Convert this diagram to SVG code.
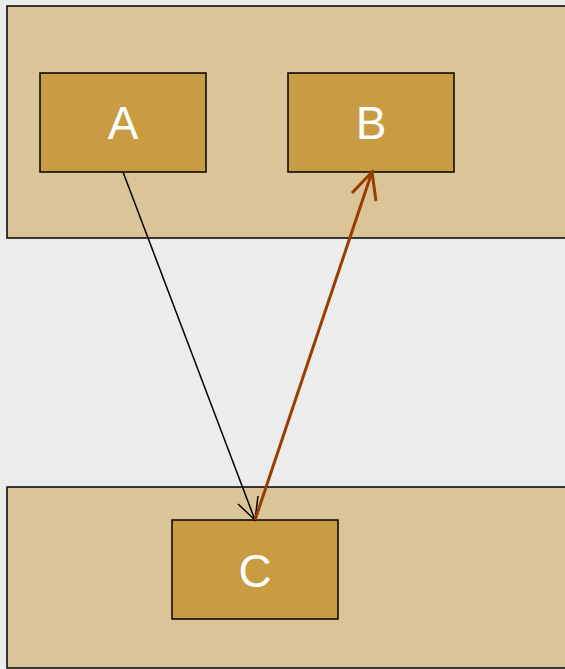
<svg xmlns="http://www.w3.org/2000/svg" width="565" height="669" viewBox="0 0 565 669">
<style>
.cluster{fill:#dbc497;stroke:#000;stroke-width:1.5}
.node rect{fill:#c99b43;stroke:#000;stroke-width:1.5}
.node text{font-family:"Liberation Sans",Arial,sans-serif;font-size:46px;fill:#fff;text-anchor:middle}
.e1{stroke:#000;stroke-width:1.5;fill:none}
.e2{stroke:#993c00;stroke-width:3;fill:none}
</style>
<rect width="565" height="669" fill="#ececec"/>
<g id="cluster1"><rect class="cluster" x="7" y="6" width="570" height="232"/></g>
<g id="cluster2"><rect class="cluster" x="7" y="487" width="570" height="181"/></g>
<g id="A" class="node"><rect x="40" y="73" width="166" height="99"/><text x="123" y="139">A</text></g>
<g id="B" class="node"><rect x="288" y="73" width="166" height="99"/><text x="371" y="139">B</text></g>
<g id="C" class="node"><rect x="172" y="520" width="166" height="99"/><text x="255" y="587">C</text></g>
<g id="connectors">
<path class="e1" d="M123,172 L255,520"/>
<path class="e1" d="M238,504 L255,520 L258,496"/>
<path class="e2" d="M255,520 L372,172"/>
<path class="e2" d="M352,193 L372,172 L376,201"/>
</g>
</svg>
